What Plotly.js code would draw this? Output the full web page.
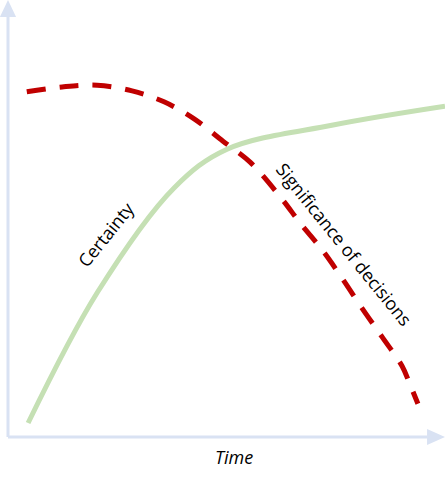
<!DOCTYPE html>
<html>
<head>
<meta charset="utf-8">
<script src="https://cdn.plot.ly/plotly-3.0.1.min.js"></script>
<style>html,body{margin:0;padding:0;background:#fff;}#chart{width:448px;height:480px;}</style>
</head>
<body>
<div id="chart"></div>
<script>
// Certainty curve (time, level)
const certaintyTime  = [4.6, 20.4, 38.0, 50.0, 74.4, 100];
const certaintyLevel = [3.2, 33.0, 57.0, 65.8, 71.4, 75.7];
// Significance of decisions curve
const significanceTime  = [4.3, 12.4, 20.4, 28.4, 35.7, 42.6, 49.2, 55.4, 62.9, 66.8, 71.9, 76.4, 81.0, 85.6, 90.2, 91.8, 93.8];
const significanceLevel = [79.0, 80.1, 80.5, 79.2, 76.7, 72.8, 67.7, 62.9, 54.2, 49.0, 42.8, 36.4, 29.5, 22.9, 16.2, 12.5, 7.6];

const labelCertainty = "Certainty";
const labelSignificance = "Significance of decisions";
const labelTime = "Time";

const axisColor = "#D9E2F3";
const font = "'Open Sans', sans-serif";

const traces = [
  {x: certaintyTime, y: certaintyLevel, mode: "lines", line: {color: "#C5E0B4", width: 5, shape: "spline", smoothing: 1}, hoverinfo: "skip"},
  {x: significanceTime, y: significanceLevel, mode: "lines", line: {color: "#C00000", width: 5, shape: "spline", dash: "19px,14px"}, hoverinfo: "skip"}
];

const layout = {
  width: 448, height: 480,
  margin: {l: 8, r: 3, t: 0, b: 43, pad: 0},
  paper_bgcolor: "#ffffff", plot_bgcolor: "#ffffff",
  showlegend: false,
  xaxis: {range: [0, 100], visible: false, fixedrange: true},
  yaxis: {range: [0, 100], visible: false, fixedrange: true},
  shapes: [
    {type: "line", xref: "paper", yref: "paper", x0: 0, y0: 0, x1: 0, y1: 0.962, line: {color: axisColor, width: 3}},
    {type: "path", xref: "paper", yref: "paper", path: "M -0.0185 0.961 L 0 1.0 L 0.0185 0.961 Z", fillcolor: axisColor, line: {color: axisColor, width: 0}},
    {type: "line", xref: "paper", yref: "paper", x0: 0, y0: 0, x1: 0.96, y1: 0, line: {color: axisColor, width: 3}},
    {type: "path", xref: "paper", yref: "paper", path: "M 0.959 0.0185 L 1.0 0 L 0.959 -0.0185 Z", fillcolor: axisColor, line: {color: axisColor, width: 0}}
  ],
  annotations: [
    {x: 22.4, y: 46.5, xref: "x", yref: "y", text: labelCertainty, showarrow: false, textangle: -51,
     xanchor: "center", yanchor: "middle", font: {family: font, size: 18, color: "#000000"}},
    {x: 76.9, y: 44.2, xref: "x", yref: "y", text: labelSignificance, showarrow: false, textangle: 51,
     xanchor: "center", yanchor: "middle", font: {family: font, size: 18, color: "#000000"}},
    {x: 0.517, y: -0.046, xref: "paper", yref: "paper", text: "<i>" + labelTime + "</i>", showarrow: false,
     xanchor: "center", yanchor: "middle", font: {family: font, size: 18, color: "#000000"}}
  ]
};

Plotly.newPlot("chart", traces, layout, {staticPlot: true, displayModeBar: false});
</script>
</body>
</html>
